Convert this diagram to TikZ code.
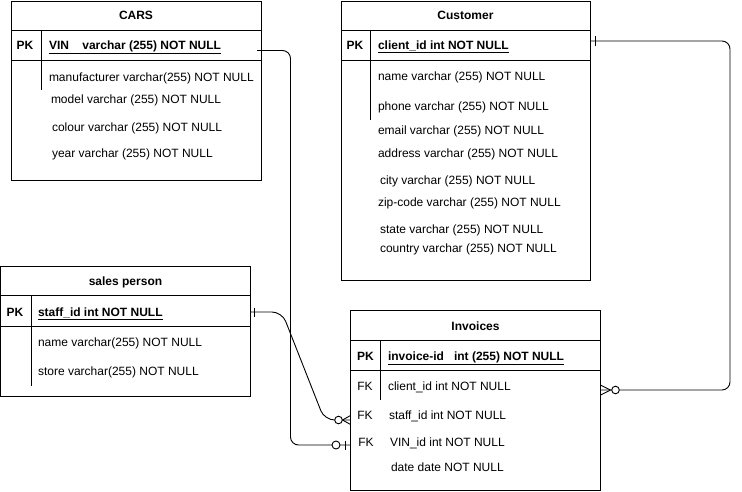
\documentclass[tikz,border=0pt]{standalone}
\usepackage{fontspec}
\setmainfont{Liberation Sans}
\begin{document}
\begin{tikzpicture}[x=1pt,y=-1pt,
  every node/.style={inner sep=0pt,outer sep=0pt,font=\fontsize{12}{14}\selectfont,text=black},
  tbl/.style={draw=black,line width=0.9pt,fill=white},
  sep/.style={draw=black,line width=0.9pt},
  ttl/.style={anchor=base,font=\fontsize{12}{14}\selectfont\bfseries},
  key/.style={anchor=base},
  fld/.style={anchor=base west},
  rel/.style={draw=black,line width=0.9pt,rounded corners=8pt},
  mk/.style={draw=black,line width=0.9pt},
  zero/.style={draw=black,line width=0.9pt,fill=white}]
\useasboundingbox (0,0) rectangle (742,491);

% ---------------- CARS
\path[tbl] (11.5,1.5) rectangle (261,180.5);
\coordinate (carsTR) at (261,1.5);
\draw[sep] (11.5,30) -- (261,30);
\draw[sep] (11.5,60) -- (261,60);
\draw[sep] (41,30) -- (41,90);
\node[ttl] (carsT) at (136,19.5) {CARS};
\node[key,font=\fontsize{12}{14}\selectfont\bfseries] (carsPK) at (25,49.5) {PK};
\node[fld,font=\fontsize{12}{14}\selectfont\bfseries] (carsVIN) at (49,49.5) {\underline{VIN\ \ \ \ varchar (255) NOT NULL}};
\node[fld] (carsM) at (49,81) {manufacturer varchar(255) NOT NULL};
\node[fld] (carsMo) at (51,103.5) {model varchar (255) NOT NULL};
\node[fld] (carsC) at (52,131) {colour varchar (255) NOT NULL};
\node[fld] (carsY) at (52,157) {year varchar (255) NOT NULL};

% ---------------- Customer
\path[tbl] (341,1.5) rectangle (590,280);
\draw[sep] (341,30) -- (590,30);
\draw[sep] (341,60) -- (590,60);
\draw[sep] (370.5,30) -- (370.5,120);
\node[ttl] (custT) at (465.5,19.5) {Customer};
\node[key,font=\fontsize{12}{14}\selectfont\bfseries] (custPK) at (355,49.5) {PK};
\node[fld,font=\fontsize{12}{14}\selectfont\bfseries] (custID) at (378,49.5) {\underline{client\_id int NOT NULL}};
\node[fld] (c1) at (378,80) {name varchar (255) NOT NULL};
\node[fld] (c2) at (378,110) {phone varchar (255) NOT NULL};
\node[fld] (c3) at (378,134) {email varchar (255) NOT NULL};
\node[fld] (c4) at (378,157.5) {address varchar (255) NOT NULL};
\node[fld] (c5) at (380,184.5) {city varchar (255) NOT NULL};
\node[fld] (c6) at (378,206.5) {zip-code varchar (255) NOT NULL};
\node[fld] (c7) at (380,233) {state varchar (255) NOT NULL};
\node[fld] (c8) at (380,252) {country varchar (255) NOT NULL};

% ---------------- sales person
\path[tbl] (0.5,266) rectangle (250.5,396);
\draw[sep] (0.5,295.5) -- (250.5,295.5);
\draw[sep] (0.5,326) -- (250.5,326);
\draw[sep] (31,295.5) -- (31,386);
\node[ttl] (spT) at (125.5,285.5) {sales person};
\node[key,font=\fontsize{12}{14}\selectfont\bfseries] (spPK) at (15,316) {PK};
\node[fld,font=\fontsize{12}{14}\selectfont\bfseries] (spID) at (38,316) {\underline{staff\_id int NOT NULL}};
\node[fld] (s1) at (38,346) {name varchar(255) NOT NULL};
\node[fld] (s2) at (38,375) {store varchar(255) NOT NULL};

% ---------------- Invoices
\path[tbl] (350.5,310.5) rectangle (600.5,490);
\draw[sep] (350.5,340.5) -- (600.5,340.5);
\draw[sep] (350.5,370.5) -- (600.5,370.5);
\draw[sep] (380.5,340.5) -- (380.5,400);
\node[ttl] (invT) at (475.5,330) {Invoices};
\node[key,font=\fontsize{12}{14}\selectfont\bfseries] (invPK) at (365.5,360) {PK};
\node[fld,font=\fontsize{12}{14}\selectfont\bfseries] (invID) at (388,360) {\underline{invoice-id\ \ \ int (255) NOT NULL}};
\node[key] (fk1) at (365,390.5) {FK};
\node[fld] (i1) at (388,390.5) {client\_id int NOT NULL};
\node[key] (fk2) at (365,419.5) {FK};
\node[fld] (i2) at (389,419.5) {staff\_id int NOT NULL};
\node[key] (fk3) at (366,446.5) {FK};
\node[fld] (i3) at (390,446.5) {VIN\_id int NOT NULL};
\node[fld] (i4) at (391,471.5) {date date NOT NULL};

% ---------------- connector end points
\coordinate (vinA) at (257,50.5);
\coordinate (vinB) at (350.5,445);
\coordinate (spA) at (250.5,312);
\coordinate (spB) at (350.5,420);
\coordinate (cuA) at (590,41);
\coordinate (cuB) at (600.5,390);

% CARS.VIN -> Invoices.VIN_id  (one ... zero-or-one)
\draw[rel] (vinA) -- (290.5,50.5) -- (290.5,445) -- (vinB);
\draw[mk] (345,440.5) -- (345,449.5);
\draw[zero] (336,445) circle (4);

% sales person.staff_id -> Invoices.staff_id (one ... zero-or-many)
\draw[rel,rounded corners=10pt] (spA) -- (282,312) -- (324.5,420) -- (spB);
\draw[mk] (254.5,307.5) -- (254.5,316.5);
\draw[mk] (342.5,420) -- (350.5,415.5);
\draw[mk] (342.5,420) -- (350.5,424.5);
\draw[zero] (338.5,420) circle (3.8);

% Customer.client_id -> Invoices.client_id (one ... zero-or-many)
\draw[rel] (cuA) -- (730,41) -- (730,390) -- (cuB);
\draw[mk] (595,36) -- (595,46);
\draw[mk] (610.5,390) -- (600.5,385);
\draw[mk] (610.5,390) -- (600.5,395);
\draw[zero] (615.5,390) circle (3.8);
\end{tikzpicture}
\end{document}
